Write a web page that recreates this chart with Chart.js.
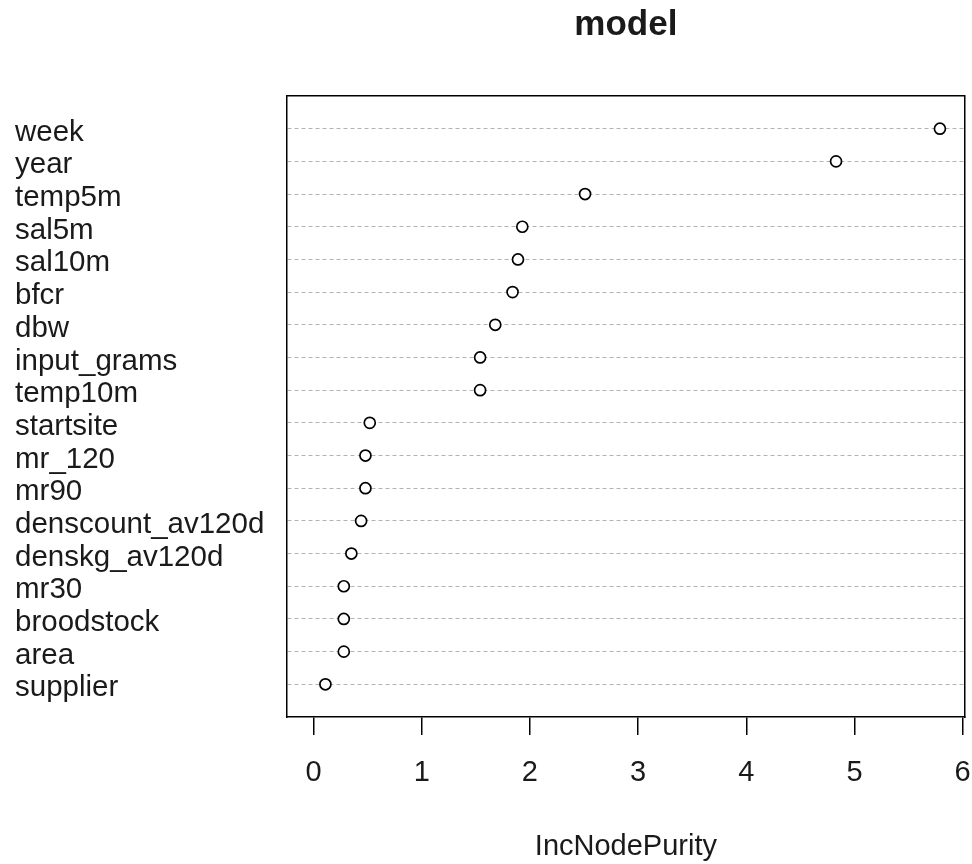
<!DOCTYPE html>
<html>
<head>
<meta charset="utf-8">
<script src="https://cdn.jsdelivr.net/npm/chart.js@4/dist/chart.umd.min.js"></script>
<style>
  html, body { margin: 0; padding: 0; background: #fff; }
  #wrap { width: 972px; height: 864px; }
</style>
</head>
<body>
<div id="wrap"><canvas id="dotChart" width="972" height="864"></canvas></div>
<script>
// variable importance (top row first)
const features = [
  "week", "year", "temp5m", "sal5m", "sal10m", "bfcr", "dbw", "input_grams",
  "temp10m", "startsite", "mr_120", "mr90", "denscount_av120d", "denskg_av120d",
  "mr30", "broodstock", "area", "supplier"
];
const purity = [
  5.79, 4.83, 2.51, 1.93, 1.89, 1.84, 1.68, 1.54,
  1.54, 0.52, 0.48, 0.48, 0.44, 0.35,
  0.28, 0.28, 0.28, 0.11
];
const xTicks = [0, 1, 2, 3, 4, 5, 6];
const rowNumbers = features.map((f, i) => i + 1);

const FONT = "'Liberation Sans', Arial, sans-serif";
const INK = "#1a1a1a";

const points = purity.map((v, i) => ({ x: v, y: rowNumbers[i] }));

// fixed box sizes so the plot region sits where the R device put it
const fixWidth = (w) => (scale) => { scale.width = w; };
const fixHeight = (h) => (scale) => {
  scale.height = h;
  // don't let the edge tick labels push the plot box inwards
  scale.paddingLeft = 0;
  scale.paddingRight = 0;
};

new Chart(document.getElementById("dotChart"), {
  type: "scatter",
  data: {
    datasets: [{
      data: points,
      xAxisID: "x",
      yAxisID: "y",
      pointRadius: 5.5,
      pointHoverRadius: 5.5,
      pointBorderWidth: 1.7,
      pointBorderColor: "#000",
      pointBackgroundColor: "#fff",
      showLine: false,
    }],
  },
  options: {
    responsive: false,
    animation: false,
    layout: { padding: { left: 15, right: 0, top: 0, bottom: 0 } },
    plugins: {
      legend: { display: false },
      tooltip: { enabled: false },
      title: { display: false },
    },
    scales: {
      x: {
        type: "linear",
        position: "bottom",
        min: -0.245,
        max: 6.02,
        afterBuildTicks: (s) => { s.ticks = xTicks.map((v) => ({ value: v })); },
        afterFit: fixHeight(147),
        ticks: {
          color: INK,
          padding: 21,
          font: { family: FONT, size: 29 },
        },
        grid: {
          drawOnChartArea: false,
          drawTicks: true,
          tickLength: 18,
          color: "#000",
          lineWidth: 1.5,
        },
        border: { display: true, color: "#000", width: 1.5 },
        title: {
          display: true,
          text: "IncNodePurity",
          color: INK,
          padding: { top: 0, bottom: 0 },
          font: { family: FONT, size: 29 },
        },
      },
      y: {
        type: "linear",
        position: "left",
        reverse: true,
        min: 0,
        max: 19,
        weight: 0,
        afterBuildTicks: (s) => { s.ticks = rowNumbers.map((v) => ({ value: v })); },
        afterFit: fixWidth(0),
        ticks: { display: false },
        grid: {
          drawTicks: false,
          color: "#b3b3b3",
          lineWidth: 1,
        },
        border: { display: true, color: "#000", width: 1.5, dash: [4, 3] },
      },
      yLab: {
        type: "linear",
        position: "left",
        reverse: true,
        min: -0.12,
        max: 18.88,
        weight: 1,
        afterBuildTicks: (s) => { s.ticks = rowNumbers.map((v) => ({ value: v })); },
        afterFit: fixWidth(272),
        ticks: {
          autoSkip: false,
          crossAlign: "far",
          color: INK,
          font: { family: FONT, size: 29.5 },
          callback: (v) => features[v - 1],
        },
        grid: { display: false },
        border: { display: false },
      },
      xTop: {
        type: "linear",
        position: "top",
        min: 0,
        max: 1,
        afterFit: fixHeight(96),
        ticks: { display: false },
        grid: { display: false, drawTicks: false },
        border: { display: true, color: "#000", width: 1.5 },
        title: {
          display: true,
          text: "model",
          color: INK,
          padding: { top: 4, bottom: 0 },
          font: { family: FONT, size: 35, weight: "bold" },
        },
      },
      yRight: {
        type: "linear",
        position: "right",
        min: 0,
        max: 1,
        afterFit: fixWidth(6),
        ticks: { display: false },
        grid: { display: false, drawTicks: false },
        border: { display: true, color: "#000", width: 1.5 },
      },
    },
  },
});
</script>
</body>
</html>
